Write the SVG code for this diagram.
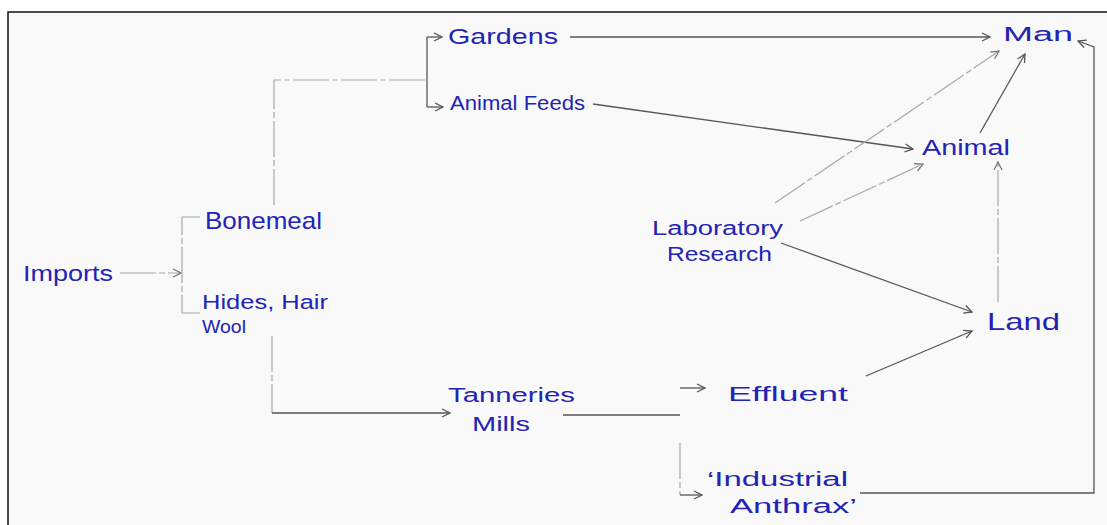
<svg xmlns="http://www.w3.org/2000/svg" width="1107" height="525" viewBox="0 0 1107 525">
<defs>
<style>
.t{font-family:"Liberation Sans","DejaVu Sans",sans-serif;fill:#2323b4;font-size:20px}
.d{stroke:#555;stroke-width:1.3;fill:none}
.l{stroke:#a8a8a8;stroke-width:1.2;fill:none;stroke-dasharray:36 3 6 3}
</style>
<marker id="a" viewBox="0 0 10 10" refX="9" refY="5" markerWidth="10" markerHeight="10" markerUnits="userSpaceOnUse" orient="auto">
<path d="M1,1 L9,5 L1,9" fill="none" stroke="#555" stroke-width="1.3"/>
</marker>
<marker id="al" viewBox="0 0 10 10" refX="9" refY="5" markerWidth="10" markerHeight="10" markerUnits="userSpaceOnUse" orient="auto">
<path d="M1,1 L9,5 L1,9" fill="none" stroke="#777" stroke-width="1.3"/>
</marker>
</defs>
<rect x="0" y="0" width="1107" height="525" fill="#ffffff"/>
<rect x="8" y="12" width="1110" height="520" fill="#f9f9f9" stroke="#111" stroke-width="1.5"/>
<g id="connectors">
<path class="l" d="M120 273 H181" marker-end="url(#al)"/>
<path class="l" d="M200 217 H182 V313 H200"/>
<path class="l" d="M274 205 V80 H427"/>
<path class="d" d="M427 37 V107"/>
<path class="d" d="M427 37 H442" marker-end="url(#a)"/>
<path class="d" d="M427 107 H443" marker-end="url(#a)"/>
<path class="d" d="M570 37 H990" marker-end="url(#a)"/>
<path class="d" d="M593 104 L913 149" marker-end="url(#a)"/>
<path class="l" d="M775 203 L999 51" marker-end="url(#al)"/>
<path class="d" d="M980 133 L1025 54" marker-end="url(#a)"/>
<path class="l" d="M800 221 L923 164" marker-end="url(#al)"/>
<path class="d" d="M781 243 L972 312" marker-end="url(#a)"/>
<path class="l" d="M998 302 V162" marker-end="url(#al)"/>
<path class="d" d="M866 376 L972 331" marker-end="url(#a)"/>
<path class="l" d="M272 336 V413"/>
<path class="d" d="M272 413 H450" marker-end="url(#a)"/>
<path class="d" d="M563 415 H680"/>
<path class="d" d="M680 388 H705" marker-end="url(#a)"/>
<path class="l" d="M680 443 V495"/>
<path class="d" d="M680 495 H702" marker-end="url(#a)"/>
<path class="d" d="M860 493 H1094 V47 L1078 41" marker-end="url(#a)"/>
</g>
<g id="imports"><text class="t" x="23" y="281" textLength="90" lengthAdjust="spacingAndGlyphs" style="font-size:22px">Imports</text></g>
<g id="bonemeal"><text class="t" x="205" y="229" textLength="117" lengthAdjust="spacingAndGlyphs" style="font-size:24px">Bonemeal</text></g>
<g id="hides"><text class="t" x="202" y="309" textLength="126" lengthAdjust="spacingAndGlyphs">Hides, Hair</text><text class="t" x="202" y="333" textLength="44" lengthAdjust="spacingAndGlyphs" style="font-size:19px">Wool</text></g>
<g id="gardens"><text class="t" x="448" y="44" textLength="110" lengthAdjust="spacingAndGlyphs" style="font-size:22px">Gardens</text></g>
<g id="animalfeeds"><text class="t" x="450" y="110" textLength="135" lengthAdjust="spacingAndGlyphs">Animal Feeds</text></g>
<g id="man"><text class="t" x="1003" y="41" textLength="70" lengthAdjust="spacingAndGlyphs">Man</text></g>
<g id="animal"><text class="t" x="922" y="155" textLength="88" lengthAdjust="spacingAndGlyphs" style="font-size:22px">Animal</text></g>
<g id="laboratory"><text class="t" x="652" y="235" textLength="131" lengthAdjust="spacingAndGlyphs">Laboratory</text><text class="t" x="667" y="261" textLength="105" lengthAdjust="spacingAndGlyphs">Research</text></g>
<g id="land"><text class="t" x="987" y="330" textLength="73" lengthAdjust="spacingAndGlyphs" style="font-size:24px">Land</text></g>
<g id="effluent"><text class="t" x="728" y="401" textLength="120" lengthAdjust="spacingAndGlyphs">Effluent</text></g>
<g id="tanneries"><text class="t" x="448" y="402" textLength="127" lengthAdjust="spacingAndGlyphs">Tanneries</text><text class="t" x="472" y="431" textLength="58" lengthAdjust="spacingAndGlyphs">Mills</text></g>
<g id="anthrax"><text class="t" x="707" y="486" textLength="141" lengthAdjust="spacingAndGlyphs">‘Industrial</text><text class="t" x="730" y="513" textLength="127" lengthAdjust="spacingAndGlyphs">Anthrax’</text></g>
</svg>
